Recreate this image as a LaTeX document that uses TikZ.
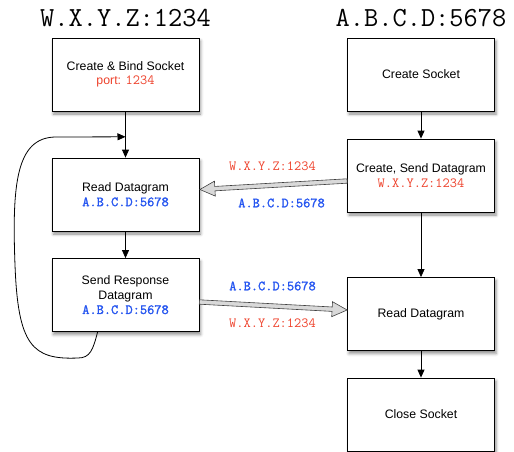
\documentclass[tikz,border=0pt]{standalone}
\usepackage{fontspec}
\setmainfont{Liberation Sans}
\setsansfont{Liberation Sans}
\newfontfamily\addrfont{Latin Modern Mono}
\newfontfamily\addrboldfont{Latin Modern Mono}[FakeBold=1.6]
\usetikzlibrary{calc,arrows.meta,shadows.blur}
\definecolor{addrred}{RGB}{238,66,44}
\definecolor{addrblue}{RGB}{38,86,240}
\newcommand{\boxfont}{\fontsize{12.3}{14.6}\selectfont\sffamily}
\newcommand{\addrsize}{\fontsize{14}{14.6}\selectfont}
\newcommand{\raddr}[1]{{\color{addrred}\addrsize\addrfont #1}}
\newcommand{\baddr}[1]{{\color{addrblue}\addrsize\addrboldfont #1}}
\tikzset{
  stepbox/.style={draw=black, line width=0.8pt, fill=white,
    minimum width=147pt, minimum height=73pt, inner sep=0pt,
    align=center, font=\boxfont,
    blur shadow={shadow xshift=1.5pt, shadow yshift=-3pt,
      shadow blur radius=3pt, shadow opacity=45}},
  flow/.style={draw=black, line width=0.8pt, -{Triangle[length=8pt,width=7pt]}},
  hollow/.style={draw=black!75, line width=0.6pt, fill=black!15, line join=miter},
  heading/.style={font=\fontsize{27.6}{28}\selectfont\addrfont},
  redlabel/.style={text=addrred, font=\addrsize\addrfont},
  bluelabel/.style={text=addrblue, font=\addrsize\addrboldfont}
}
% hollow block arrow from #1 to #2
\newcommand{\blockarrow}[2]{%
  \path (#2) coordinate (ba-t) (#1) coordinate (ba-s);
  \path ($(ba-t)!15pt!(ba-s)$) coordinate (ba-h);
  \draw[hollow]
    ($(ba-s)!2.2pt!90:(ba-t)$) -- ($(ba-h)!2.2pt!90:(ba-t)$) --
    ($(ba-h)!7.5pt!90:(ba-t)$) -- (ba-t) --
    ($(ba-h)!7.5pt!-90:(ba-t)$) -- ($(ba-h)!2.2pt!-90:(ba-t)$) --
    ($(ba-s)!2.2pt!-90:(ba-t)$) -- cycle;}
\begin{document}
\begin{tikzpicture}[x=1pt,y=-1pt]
\useasboundingbox (0,0) rectangle (514,452);

% column headings
\node[heading] (hl) at (125.5,18) {W.X.Y.Z:1234};
\node[heading] (hr) at (421,18) {A.B.C.D:5678};

% server side
\node[stepbox] (bind) at (125.5,74.5) {Create \& Bind Socket\\{\color{addrred}port: \addrsize\addrfont 1234}};
\node[stepbox] (sread) at (125.5,194.5) {Read Datagram\\\baddr{A.B.C.D:5678}};
\node[stepbox] (sresp) at (125.5,295) {Send Response\\Datagram\\\baddr{A.B.C.D:5678}};

% client side
\node[stepbox] (csock) at (421,74.5) {Create Socket};
\node[stepbox] (csend) at (421,175.5) {Create, Send Datagram\\\raddr{W.X.Y.Z:1234}};
\node[stepbox] (cread) at (421,314) {Read Datagram};
\node[stepbox] (cclose) at (421,414.5) {Close Socket};

% control flow
\draw[flow] (bind) -- (sread);
\draw[flow] (sread) -- (sresp);
\draw[flow] (csock) -- (csend);
\draw[flow] (csend) -- (cread);
\draw[flow] (cread) -- (cclose);

% loop back to reading
\coordinate (loopin) at ($(bind.south)!0.55!(sread.north)$);
\coordinate (loopout) at ($(sresp.south west)+(46,0)$);
\draw[flow]
  (loopout) .. controls (93,350) and (90,358) .. (78,358)
  .. controls (32,360) and (18,345) .. (15,265)
  .. controls (12,185) and (16,138) .. (55,137)
  -- (loopin);

% datagrams on the wire
\coordinate (d1s) at ($(csend.west)+(0,5.5)$);
\coordinate (d1t) at ($(sread.east)+(0.5,-5)$);
\coordinate (d2s) at ($(sresp.east)+(0,7)$);
\coordinate (d2t) at ($(cread.west)+(0,-4)$);
\blockarrow{d1s}{d1t}
\blockarrow{d2s}{d2t}

\node[redlabel] (l1) at (272.5,166) {W.X.Y.Z:1234};
\node[bluelabel] (l2) at (281.5,203) {A.B.C.D:5678};
\node[bluelabel] (l3) at (272.5,286) {A.B.C.D:5678};
\node[redlabel] (l4) at (272.5,323) {W.X.Y.Z:1234};
\end{tikzpicture}
\end{document}
